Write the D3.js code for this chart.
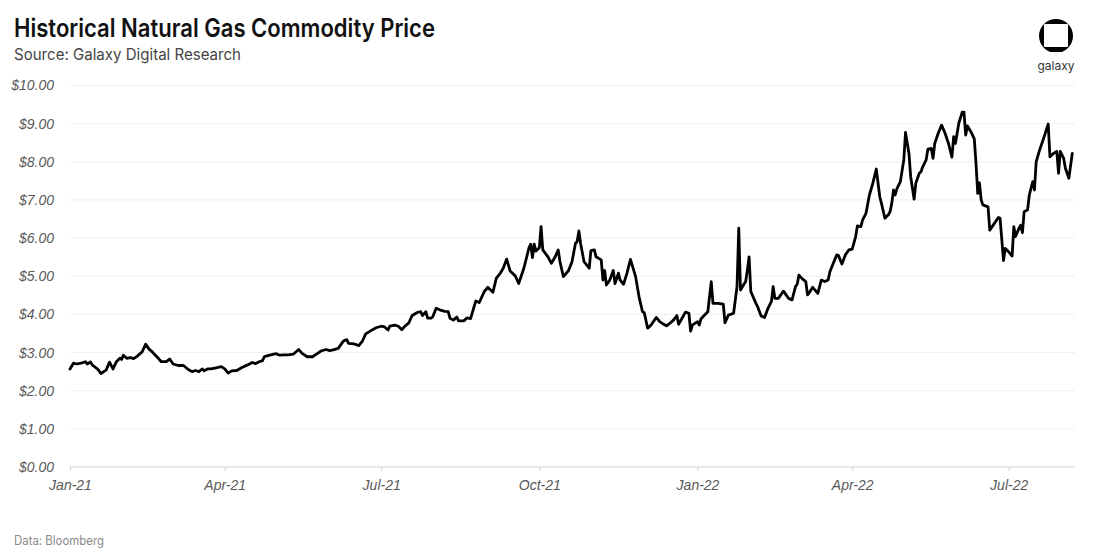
<!DOCTYPE html>
<html>
<head>
<meta charset="utf-8">
<script src="https://cdn.jsdelivr.net/npm/d3@7"></script>
<style>
  body { margin: 0; background: #fff; }
</style>
</head>
<body>
<div id="chart"></div>
<script>
// Henry Hub natural gas front month (USD / MMBtu)
var dates = [
  "2021-01-01","2021-01-03","2021-01-05","2021-01-08","2021-01-10","2021-01-11","2021-01-13","2021-01-14","2021-01-17","2021-01-19","2021-01-22","2021-01-24","2021-01-26","2021-01-28","2021-01-30","2021-01-31",
  "2021-02-01","2021-02-03","2021-02-05","2021-02-07","2021-02-09","2021-02-12","2021-02-14","2021-02-16","2021-02-18","2021-02-21","2021-02-23","2021-02-26","2021-02-28",
  "2021-03-02","2021-03-05","2021-03-08","2021-03-11","2021-03-13","2021-03-15","2021-03-17","2021-03-19","2021-03-20","2021-03-22","2021-03-24","2021-03-27","2021-03-30",
  "2021-04-01","2021-04-03","2021-04-05","2021-04-08","2021-04-11","2021-04-14","2021-04-17","2021-04-19","2021-04-21","2021-04-23","2021-04-24","2021-04-26","2021-04-29",
  "2021-05-01","2021-05-03","2021-05-06","2021-05-08","2021-05-11","2021-05-14","2021-05-16","2021-05-19","2021-05-22","2021-05-25","2021-05-27","2021-05-30",
  "2021-06-01","2021-06-03","2021-06-06","2021-06-09","2021-06-11","2021-06-12","2021-06-15","2021-06-18","2021-06-20","2021-06-22","2021-06-26","2021-06-28",
  "2021-07-01","2021-07-03","2021-07-05","2021-07-06","2021-07-09","2021-07-11","2021-07-13","2021-07-15","2021-07-17","2021-07-19","2021-07-22","2021-07-24","2021-07-25","2021-07-27","2021-07-28","2021-07-30","2021-07-31",
  "2021-08-02","2021-08-04","2021-08-07","2021-08-09","2021-08-10","2021-08-12","2021-08-14","2021-08-15","2021-08-18","2021-08-20","2021-08-22","2021-08-25","2021-08-27","2021-08-30",
  "2021-09-01","2021-09-04","2021-09-06","2021-09-08","2021-09-10","2021-09-12","2021-09-14","2021-09-17","2021-09-19","2021-09-22","2021-09-25","2021-09-26","2021-09-27","2021-09-28","2021-09-29",
  "2021-10-01","2021-10-02","2021-10-03","2021-10-06","2021-10-08","2021-10-10","2021-10-12","2021-10-13","2021-10-15","2021-10-18","2021-10-20","2021-10-22","2021-10-23","2021-10-24","2021-10-25","2021-10-27","2021-10-30","2021-10-31",
  "2021-11-02","2021-11-03","2021-11-06","2021-11-07","2021-11-08","2021-11-09","2021-11-11","2021-11-13","2021-11-14","2021-11-16","2021-11-17","2021-11-19","2021-11-21","2021-11-23","2021-11-26","2021-11-28","2021-11-30",
  "2021-12-01","2021-12-03","2021-12-05","2021-12-08","2021-12-10","2021-12-12","2021-12-14","2021-12-16","2021-12-18","2021-12-20","2021-12-21","2021-12-23","2021-12-25","2021-12-27","2021-12-28","2021-12-29",
  "2022-01-01","2022-01-02","2022-01-03","2022-01-05","2022-01-07","2022-01-09","2022-01-10","2022-01-13","2022-01-16","2022-01-17","2022-01-19","2022-01-22","2022-01-24","2022-01-25","2022-01-26","2022-01-28","2022-01-29","2022-01-30","2022-01-31",
  "2022-02-01","2022-02-04","2022-02-05","2022-02-07","2022-02-09","2022-02-11","2022-02-13","2022-02-14","2022-02-15","2022-02-17","2022-02-20","2022-02-23","2022-02-25","2022-02-27","2022-02-28",
  "2022-03-01","2022-03-03","2022-03-05","2022-03-06","2022-03-07","2022-03-09","2022-03-12","2022-03-14","2022-03-16","2022-03-18","2022-03-19","2022-03-21","2022-03-23","2022-03-24","2022-03-26","2022-03-28","2022-03-30",
  "2022-04-01","2022-04-03","2022-04-04","2022-04-06","2022-04-07","2022-04-09","2022-04-11","2022-04-13","2022-04-15","2022-04-17","2022-04-18","2022-04-20","2022-04-22","2022-04-23","2022-04-24","2022-04-25","2022-04-26","2022-04-27","2022-04-29",
  "2022-05-01","2022-05-02","2022-05-04","2022-05-05","2022-05-07","2022-05-08","2022-05-10","2022-05-11","2022-05-12","2022-05-14","2022-05-15","2022-05-17","2022-05-18","2022-05-19","2022-05-21","2022-05-23","2022-05-25","2022-05-27","2022-05-29","2022-05-30","2022-05-31",
  "2022-06-02","2022-06-04","2022-06-05","2022-06-06","2022-06-07","2022-06-09","2022-06-11","2022-06-12","2022-06-13","2022-06-14","2022-06-15","2022-06-16","2022-06-19","2022-06-20","2022-06-22","2022-06-25","2022-06-26","2022-06-28","2022-06-29",
  "2022-07-01","2022-07-03","2022-07-04","2022-07-05","2022-07-07","2022-07-08","2022-07-09","2022-07-10","2022-07-12","2022-07-13","2022-07-15","2022-07-16","2022-07-17","2022-07-19","2022-07-21","2022-07-24","2022-07-25","2022-07-27","2022-07-29","2022-07-30","2022-07-31",
  "2022-08-02","2022-08-03","2022-08-05","2022-08-07"
];

var prices = [
  2.57,2.72,2.70,2.73,2.76,2.70,2.75,2.67,2.57,2.45,2.54,2.75,2.57,2.76,2.85,2.82,
  2.93,2.85,2.87,2.84,2.90,3.02,3.22,3.09,3.01,2.87,2.76,2.76,2.83,
  2.70,2.66,2.66,2.55,2.50,2.53,2.50,2.57,2.52,2.57,2.57,2.60,2.63,
  2.57,2.46,2.52,2.53,2.61,2.67,2.74,2.71,2.76,2.79,2.89,2.92,2.95,
  2.97,2.93,2.94,2.94,2.96,3.08,2.98,2.89,2.89,2.98,3.04,3.08,
  3.05,3.07,3.11,3.30,3.34,3.24,3.23,3.18,3.29,3.49,3.60,3.65,
  3.69,3.67,3.59,3.69,3.72,3.69,3.60,3.70,3.77,3.97,4.05,4.07,3.97,4.07,3.90,3.90,3.94,
  4.16,4.12,4.08,4.07,3.90,3.85,3.93,3.83,3.83,3.91,3.89,4.35,4.31,4.60,
  4.71,4.58,4.95,5.06,5.21,5.45,5.14,5.01,4.81,5.21,5.75,5.84,5.49,5.84,5.66,
  5.75,6.30,5.69,5.51,5.34,5.49,5.69,5.38,4.99,5.15,5.38,5.86,5.91,6.19,5.86,5.38,5.21,5.67,
  5.69,5.51,5.43,4.90,5.15,4.77,4.90,5.15,4.81,5.08,4.90,4.79,5.08,5.44,4.99,4.46,4.07,
  4.05,3.64,3.72,3.92,3.81,3.75,3.70,3.77,3.85,3.97,3.74,3.90,4.06,4.03,3.56,3.72,
  3.81,3.72,3.88,3.98,4.07,4.86,4.29,4.29,4.27,3.78,3.98,4.03,4.73,6.26,4.64,4.79,4.86,5.16,5.51,
  4.60,4.29,4.20,3.96,3.92,4.16,4.34,4.73,4.42,4.42,4.61,4.42,4.38,4.73,4.79,
  5.03,4.93,4.86,4.51,4.57,4.71,4.55,4.90,4.86,4.90,5.12,5.34,5.56,5.54,5.32,5.56,5.69,
  5.71,6.04,6.32,6.30,6.47,6.65,7.13,7.44,7.81,7.09,6.91,6.52,6.61,6.69,6.91,7.26,7.13,7.30,7.48,
  8.05,8.77,8.22,7.61,7.02,7.44,7.70,7.74,7.87,8.05,8.33,8.35,8.09,8.48,8.75,8.96,8.75,8.48,8.12,8.66,8.48,
  9.01,9.30,9.30,8.70,8.94,8.79,8.60,7.96,7.17,7.45,7.00,6.87,6.82,6.21,6.34,6.54,6.52,5.41,5.73,
  5.64,5.53,6.30,6.04,6.26,6.34,6.14,6.69,6.74,7.13,7.48,7.26,8.00,8.31,8.57,8.99,8.13,8.22,8.27,7.70,8.27,
  8.09,7.83,7.57,8.22
];

var yTicks = [0, 1, 2, 3, 4, 5, 6, 7, 8, 9, 10];
var xStart = "2021-01-01", xEnd = "2022-08-08";

function main() {
  var w = 1100, h = 559;
  var mLeft = 70, mRight = 1074, mTop = 85.5, mBottom = 467;

  var parse = d3.timeParse("%Y-%m-%d");
  var data = dates.map(function(d, i) { return { date: parse(d), price: prices[i] }; });

  var svg = d3.select("#chart").append("svg")
    .attr("width", w)
    .attr("height", h)
    .style("font-family", "Lato, 'Open Sans', sans-serif");

  var x = d3.scaleTime()
    .domain([parse(xStart), parse(xEnd)])
    .range([mLeft, mRight]);

  var y = d3.scaleLinear()
    .domain([0, 10])
    .range([mBottom, mTop]);

  // gridlines
  svg.append("g").selectAll("line")
    .data(yTicks.filter(function(d) { return d > 0; }))
    .enter().append("line")
    .attr("x1", mLeft).attr("x2", mRight + 1)
    .attr("y1", function(d) { return y(d); })
    .attr("y2", function(d) { return y(d); })
    .attr("stroke", "#efefef")
    .attr("stroke-width", 1);

  // y labels
  var yAxis = d3.axisLeft(y)
    .tickValues(yTicks)
    .tickSize(0)
    .tickPadding(16)
    .tickFormat(function(d) { return "$" + d3.format(".2f")(d); });

  svg.append("g")
    .attr("transform", "translate(" + mLeft + ",0)")
    .call(yAxis)
    .call(function(g) { g.select(".domain").remove(); })
    .selectAll("text")
    .attr("fill", "#595959")
    .style("font-size", "14px")
    .style("font-style", "italic");

  // x axis
  var xAxis = d3.axisBottom(x)
    .ticks(d3.timeMonth.every(3))
    .tickSize(4)
    .tickPadding(9)
    .tickFormat(d3.timeFormat("%b-%y"));

  var gx = svg.append("g")
    .attr("transform", "translate(0," + mBottom + ")")
    .call(xAxis);
  gx.select(".domain").attr("stroke", "#d4d4d4").attr("d", "M" + mLeft + ",0H" + (mRight + 1));
  gx.selectAll(".tick line").attr("stroke", "#d4d4d4");
  gx.selectAll("text")
    .attr("fill", "#595959")
    .style("font-size", "14px")
    .style("font-style", "italic");

  // price line
  var line = d3.line()
    .x(function(d) { return x(d.date); })
    .y(function(d) { return y(d.price); });

  svg.append("path")
    .datum(data)
    .attr("d", line)
    .attr("fill", "none")
    .attr("stroke", "#000")
    .attr("stroke-width", 2.8)
    .attr("stroke-linejoin", "round")
    .attr("stroke-linecap", "round");

  // titles
  svg.append("text")
    .attr("x", 14).attr("y", 37)
    .attr("textLength", 421)
    .attr("lengthAdjust", "spacingAndGlyphs")
    .style("font-family", "Inter, sans-serif")
    .style("font-size", "25px")
    .style("font-weight", 600)
    .attr("fill", "#111")
    .text("Historical Natural Gas Commodity Price");

  svg.append("text")
    .attr("x", 14).attr("y", 60)
    .attr("textLength", 227)
    .attr("lengthAdjust", "spacingAndGlyphs")
    .style("font-family", "Inter, sans-serif")
    .style("font-size", "16px")
    .attr("fill", "#444")
    .text("Source: Galaxy Digital Research");

  svg.append("text")
    .attr("x", 14).attr("y", 545)
    .attr("textLength", 90)
    .attr("lengthAdjust", "spacingAndGlyphs")
    .style("font-family", "Inter, sans-serif")
    .style("font-size", "12.5px")
    .attr("fill", "#8a8a8a")
    .text("Data: Bloomberg");

  // galaxy logo
  var logo = svg.append("g");
  logo.append("clipPath").attr("id", "logoClip")
    .append("rect").attr("x", 1030).attr("y", 10).attr("width", 50).attr("height", 42);
  logo.append("circle")
    .attr("cx", 1056).attr("cy", 36).attr("r", 17)
    .attr("clip-path", "url(#logoClip)")
    .attr("fill", "#000");
  logo.append("rect")
    .attr("x", 1044).attr("y", 24).attr("width", 24).attr("height", 23)
    .attr("rx", 1)
    .attr("fill", "#fff");
  logo.append("text")
    .attr("x", 1056).attr("y", 70)
    .attr("text-anchor", "middle")
    .style("font-family", "Inter, sans-serif")
    .style("font-size", "12px")
    .attr("fill", "#333")
    .text("galaxy");
}

main();
</script>
</body>
</html>
